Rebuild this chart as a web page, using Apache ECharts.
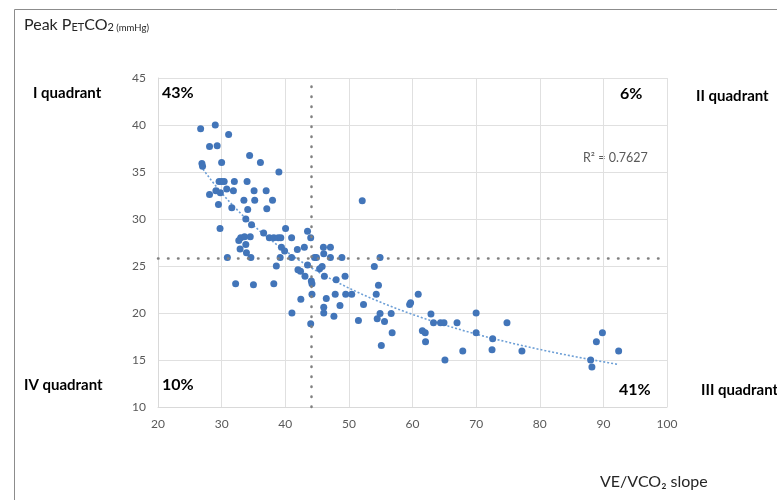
<!DOCTYPE html>
<html>
<head>
<meta charset="utf-8">
<script src="https://cdn.jsdelivr.net/npm/echarts@6/dist/echarts.min.js"></script>
<style>
  html, body { margin: 0; padding: 0; background: #ffffff; }
  #chart { width: 777px; height: 500px; }
</style>
</head>
<body>
<div id="chart"></div>
<script>
// VE/VCO2 slope for each subject
const slope = [
  26.7, 29.0, 31.1, 28.1, 29.3, 34.4, 36.1, 39.0, 26.9, 27.0,
  30.0, 29.6, 30.0, 30.4, 32.0, 34.0, 28.1, 29.1, 29.8, 30.8,
  31.85, 35.1, 37.0, 29.5, 31.6, 33.5, 35.2, 38.0, 34.1, 37.1,
  29.75, 33.8, 34.7, 36.6, 40.05, 33.0, 33.6, 34.5, 32.7, 33.8,
  32.9, 33.9, 34.6, 30.9, 37.5, 38.2, 38.9, 39.3, 41.0, 39.4,
  39.9, 38.6, 41.9, 43.0, 43.5, 44.0, 41.0, 39.2, 44.6, 44.9,
  43.5, 42.0, 42.4, 43.1, 44.1, 44.2, 46.0, 47.1, 46.05, 47.1,
  48.9, 45.4, 45.8, 46.15, 48.0, 49.4, 35.0, 32.2, 38.2, 44.2,
  42.45, 46.45, 47.85, 49.5, 50.45, 46.05, 46.05, 48.6, 47.65, 41.05,
  44.0, 52.1, 54.9, 54.0, 54.65, 54.3, 52.3, 51.5, 54.45, 54.9,
  55.6, 56.65, 56.8, 55.1, 59.55, 59.7, 60.9, 61.55, 62.0, 62.05,
  62.9, 63.3, 64.4, 64.95, 65.1, 67.0, 67.9, 70.0, 70.0, 72.6,
  72.5, 74.85, 77.2, 88.0, 88.2, 88.9, 89.85, 92.4
];
// Peak PETCO2 (mmHg) for the same subjects
const petco2 = [
  39.6, 40.0, 39.0, 37.7, 37.8, 36.75, 36.0, 35.0, 35.9, 35.6,
  36.0, 34.0, 34.0, 34.0, 34.0, 34.0, 32.6, 33.0, 32.8, 33.2,
  33.0, 33.0, 33.0, 31.55, 31.2, 32.0, 32.0, 32.0, 31.0, 31.1,
  29.0, 30.0, 29.4, 28.5, 29.0, 28.0, 28.1, 28.1, 27.7, 27.3,
  26.8, 26.4, 25.9, 25.9, 28.0, 28.0, 28.0, 28.0, 28.0, 27.0,
  26.6, 25.0, 26.75, 27.0, 28.7, 28.0, 25.9, 25.9, 25.9, 25.9,
  25.1, 24.6, 24.45, 23.9, 23.4, 23.1, 27.0, 27.0, 26.3, 25.9,
  25.9, 24.7, 24.95, 23.9, 23.55, 23.9, 23.0, 23.1, 23.1, 22.0,
  21.45, 21.55, 22.0, 22.0, 22.0, 20.6, 20.0, 20.8, 19.65, 20.0,
  18.85, 31.95, 25.9, 24.95, 22.95, 22.0, 20.9, 19.2, 19.4, 19.95,
  19.1, 19.95, 17.9, 16.55, 20.9, 21.1, 22.0, 18.1, 17.9, 16.95,
  19.9, 18.95, 18.95, 18.95, 15.0, 18.95, 15.95, 20.0, 17.9, 17.25,
  16.1, 18.95, 15.95, 15.0, 14.25, 16.95, 17.9, 15.95
];
// Cut-off values that split the plane into quadrants
const slopeCut = 44.1;
const petco2Cut = 25.85;
// Axis ranges and tick steps
const xTicks = { min: 20, max: 100, step: 10 };
const yTicks = { min: 10, max: 45, step: 5 };
// Quadrant labels and shares
const quadrantNames = ['I quadrant', 'II quadrant', 'III quadrant', 'IV quadrant'];
const quadrantShares = ['43%', '6%', '41%', '10%'];
const r2Text = 'R\u00b2 = 0.7627';

const points = slope.map((x, i) => [x, petco2[i]]);

// Power trend line y = a * x^b, least squares in log-log space
function powerFit(xs, ys) {
  const n = xs.length;
  let sx = 0, sy = 0, sxx = 0, sxy = 0;
  for (let i = 0; i < n; i++) {
    const lx = Math.log(xs[i]), ly = Math.log(ys[i]);
    sx += lx; sy += ly; sxx += lx * lx; sxy += lx * ly;
  }
  const b = (n * sxy - sx * sy) / (n * sxx - sx * sx);
  const a = Math.exp((sy - b * sx) / n);
  return { a, b };
}
const fit = powerFit(slope, petco2);
const xLo = Math.min(...slope), xHi = Math.max(...slope);
const trend = [];
for (let k = 0; k <= 80; k++) {
  const x = xLo + (xHi - xLo) * k / 80;
  trend.push([x, fit.a * Math.pow(x, fit.b)]);
}

const FONT = 'Lato, "Open Sans", sans-serif';
const dotLine = { color: '#808080', width: 2.5, type: [0.5, 9.5], cap: 'round' };

// Bold annotation text centred vertically on y
function label(text, x, y, size) {
  return {
    type: 'text', x: x, y: y, silent: true,
    style: { text: text, font: 'bold ' + size + 'px ' + FONT, fill: '#000', verticalAlign: 'middle' }
  };
}

const chart = echarts.init(document.getElementById('chart'));
chart.setOption({
  backgroundColor: '#ffffff',
  animation: false,
  grid: { left: 158, right: 110, top: 78, bottom: 93 },
  xAxis: {
    type: 'value', min: xTicks.min, max: xTicks.max, interval: xTicks.step,
    axisLine: { show: true, lineStyle: { color: '#d9d9d9' } },
    axisTick: { show: false },
    axisLabel: { color: '#595959', fontSize: 12, fontFamily: FONT, margin: 11 },
    splitLine: { show: true, lineStyle: { color: '#e0e0e0', width: 1 } }
  },
  yAxis: {
    type: 'value', min: yTicks.min, max: yTicks.max, interval: yTicks.step,
    axisLine: { show: true, lineStyle: { color: '#d9d9d9' } },
    axisTick: { show: false },
    axisLabel: { color: '#595959', fontSize: 12, fontFamily: FONT, margin: 12 },
    splitLine: { show: true, lineStyle: { color: '#e0e0e0', width: 1 } }
  },
  series: [
    {
      type: 'line',
      data: trend,
      showSymbol: false,
      smooth: false,
      lineStyle: { color: '#6d9fd6', width: 1.6, type: [2, 2] },
      z: 3,
      silent: true
    },
    {
      type: 'scatter',
      data: points,
      symbolSize: 7,
      itemStyle: { color: '#4275b9', opacity: 1 },
      z: 4,
      markLine: {
        silent: true,
        symbol: ['none', 'none'],
        label: { show: false },
        lineStyle: dotLine,
        data: [
          { xAxis: slopeCut },
          { yAxis: petco2Cut }
        ]
      }
    }
  ],
  graphic: [
    { type: 'rect', shape: { x: 14.5, y: 9.5, width: 800, height: 600 },
      style: { fill: 'none', stroke: '#8c8c8c', lineWidth: 1 }, silent: true },
    { type: 'text', x: 24, y: 23, silent: true,
      style: {
        text: '{a|Peak P}{s|ET}{a|CO}{s|2}{m| (mmHg)}',
        verticalAlign: 'middle',
        rich: {
          a: { fontSize: 16, fontFamily: FONT, fill: '#262626', verticalAlign: 'bottom', lineHeight: 20 },
          s: { fontSize: 11, fontFamily: FONT, fill: '#262626', verticalAlign: 'bottom', lineHeight: 17 },
          m: { fontSize: 9.5, fontFamily: FONT, fill: '#262626', verticalAlign: 'bottom', lineHeight: 17 }
        }
      } },
    label(quadrantNames[0], 33, 93, 15),
    label(quadrantNames[1], 696, 96, 15),
    label(quadrantNames[2], 701, 390, 15),
    label(quadrantNames[3], 24, 385, 15),
    label(quadrantShares[0], 162, 93, 16),
    label(quadrantShares[1], 620, 94, 16),
    label(quadrantShares[2], 619, 390, 16),
    label(quadrantShares[3], 162, 385, 16),
    { type: 'text', x: 583, y: 158, silent: true,
      style: { text: r2Text, font: '12.5px ' + FONT, fill: '#595959', verticalAlign: 'middle' } },
    { type: 'text', x: 600, y: 482, silent: true,
      style: { text: 'VE/VCO\u2082 slope', font: '16px ' + FONT, fill: '#262626', verticalAlign: 'middle' } }
  ]
});
</script>
</body>
</html>
